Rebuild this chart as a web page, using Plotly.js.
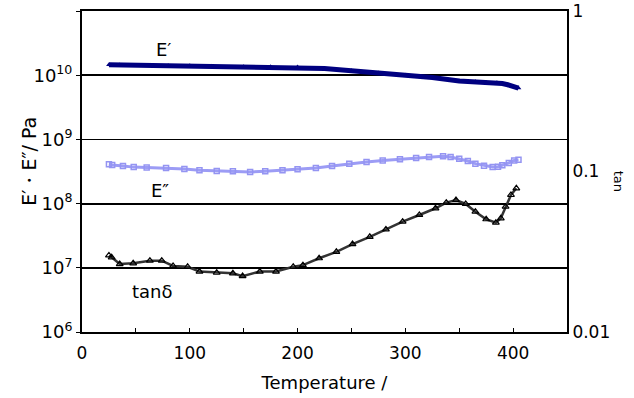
<!DOCTYPE html>
<html><head><meta charset="utf-8">
<script src="https://cdn.plot.ly/plotly-3.0.1.min.js"></script>
<style>html,body{margin:0;padding:0;background:#fff}#c{width:634px;height:398px}</style>
</head><body><div id="c"></div>
<script>
// E' (storage modulus, Pa) vs temperature
const tempE1 = [25,35,50,65,80,100,120,150,175,200,225,250,275,300,325,350,365,375,385,390,395,400,405];
const storageE1 = [1.45e10,1.44e10,1.42e10,1.41e10,1.40e10,1.40e10,1.38e10,1.36e10,1.35e10,1.34e10,1.27e10,1.17e10,1.08e10,1.0e10,9.2e9,8.1e9,7.9e9,7.7e9,7.6e9,7.4e9,7.1e9,6.6e9,6.3e9];
// E'' (loss modulus, Pa) vs temperature
const tempE2 = [25,28,38,48,60,78,95,109,125,140,156,170,186,200,217,232,248,264,279,295,310,322,335,342,350,358,365,373,381,386,390,396,401,405];
const lossE2 = [4.1e8,4.0e8,3.85e8,3.7e8,3.65e8,3.58e8,3.45e8,3.3e8,3.22e8,3.18e8,3.1e8,3.18e8,3.3e8,3.42e8,3.58e8,3.85e8,4.19e8,4.45e8,4.71e8,4.9e8,5.11e8,5.3e8,5.44e8,5.3e8,5.0e8,4.6e8,4.19e8,3.9e8,3.71e8,3.75e8,3.95e8,4.3e8,4.71e8,4.8e8];
// tan delta vs temperature
const tempTan = [25,27.5,35,47.5,63,74,84.5,98,109,125,140,149,165,180,196,205,220,236,251,267,282,297.5,313,328,338,347,356,365,375,384,388.6,393,398,403];
const tanDelta = [0.0300,0.0292,0.0265,0.0268,0.0278,0.0278,0.0258,0.0255,0.0238,0.0234,0.0232,0.0223,0.0238,0.0238,0.0255,0.0261,0.0288,0.0316,0.0353,0.0392,0.0436,0.0487,0.0536,0.0590,0.0640,0.0664,0.0628,0.0562,0.0504,0.0480,0.0511,0.0604,0.0714,0.0786];
const leftTickVals = [1e6,1e7,1e8,1e9,1e10,1e11];
const leftTickText = ['10<sup>6</sup>','10<sup>7</sup>','10<sup>8</sup>','10<sup>9</sup>','10<sup>10</sup>','10<sup>11</sup>'];
const rightTickVals = [0.01,0.1,1];
const rightTickText = ['0.01','0.1','1'];

const F = 'DejaVu Sans, Verdana, sans-serif';
const traces = [
  {x: tempE1, y: storageE1, yaxis: 'y', mode: 'lines+markers', line: {color: '#000080', width: 5},
   marker: {symbol: 'triangle-up', size: 5, color: '#000080'}, showlegend: false},
  {x: tempE2, y: lossE2, yaxis: 'y', mode: 'lines+markers', line: {color: '#9c9cf5', width: 3},
   marker: {symbol: 'square-open', size: 5, color: '#9494f2', line: {width: 1.5}}, showlegend: false},
  {x: tempTan, y: tanDelta, yaxis: 'y2', mode: 'lines+markers', line: {color: '#333', width: 2.5},
   marker: {symbol: 'triangle-up-open', size: 6, color: '#000', line: {width: 1.2}}, showlegend: false}
];
const layout = {
  width: 634, height: 398,
  margin: {l: 82, r: 67, t: 11, b: 66},
  paper_bgcolor: '#fff', plot_bgcolor: '#fff',
  font: {family: F, size: 17, color: '#000'},
  xaxis: {range: [0, 450], dtick: 100, tick0: 0, ticks: 'inside', ticklen: 4, tickcolor: '#000',
    showgrid: false, zeroline: false, showline: true, linecolor: '#000', linewidth: 2, mirror: true,
    minor: {dtick: 50, ticks: 'inside', ticklen: 4, tickcolor: '#000'}, ticklabelstandoff: 5,
    tickfont: {size: 17}, title: {text: 'Temperature /', font: {size: 18}, standoff: 14}},
  yaxis: {type: 'log', range: [6, 11], tickvals: leftTickVals, ticktext: leftTickText,
    ticks: 'outside', ticklen: 4, tickcolor: '#000',
    showgrid: true, gridcolor: '#000', gridwidth: 1.8, zeroline: false,
    showline: true, linecolor: '#000', linewidth: 2,
    tickfont: {size: 18}},
  yaxis2: {type: 'log', range: [-2, 0], overlaying: 'y', side: 'right', tickvals: rightTickVals, ticktext: rightTickText,
    ticks: '', showgrid: false, zeroline: false, showline: true, linecolor: '#000', linewidth: 2,
    tickfont: {size: 17}},
  annotations: [
    {text: 'E′・E″/ Pa', x: 0, xref: 'paper', xshift: -66, y: 0.53, yref: 'paper', textangle: -90,
     showarrow: false, font: {size: 19}},
    {text: 'E′', x: 76, y: Math.log10(2.5e10), xref: 'x', yref: 'y', showarrow: false, font: {size: 18}},
    {text: 'E″', x: 72, y: Math.log10(1.6e8), xref: 'x', yref: 'y', showarrow: false, font: {size: 18}},
    {text: 'tanδ', x: 65, y: Math.log10(4.2e6), xref: 'x', yref: 'y', showarrow: false, font: {size: 18}},
    {text: 'tan', x: 1, xref: 'paper', xanchor: 'left', xshift: 42, y: 0.47, yref: 'paper', textangle: 90,
     showarrow: false, font: {size: 13}}
  ]
};
Plotly.newPlot('c', traces, layout, {staticPlot: true});
</script></body></html>
